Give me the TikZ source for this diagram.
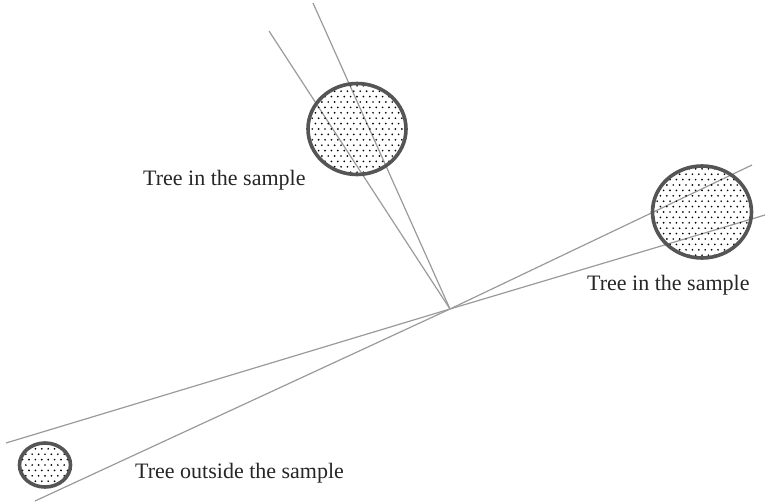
\documentclass[tikz,border=0pt]{standalone}
\usepackage{fontspec}
\setmainfont{Liberation Serif}
\usetikzlibrary{shapes.geometric}
\definecolor{raycol}{HTML}{9A9A9A}
\definecolor{treeedge}{HTML}{555555}
\tikzset{
  ray/.style={draw=raycol, line width=1.2pt, line join=round},
  tree/.style={ellipse, draw=treeedge, line width=3.6pt, inner sep=0pt,
    path picture={
      \begin{scope}[shift={(path picture bounding box.center)}]
        \foreach \j in {-10,...,10}{
          \foreach \i in {-14,...,14}{
            \fill[black] (\i*6.4+\j*3.2, \j*5.4) circle (0.95);
          }
        }
      \end{scope}
    }},
  lbl/.style={anchor=base west, inner sep=0pt, font=\fontsize{22}{26}\selectfont, text=black!85}
}
\begin{document}
\begin{tikzpicture}[x=1pt, y=-1pt]
  \useasboundingbox (0,0) rectangle (766,503);
  \coordinate (c) at (450,309);
  \coordinate (t1) at (269,31);
  \coordinate (t2) at (313,3);
  \coordinate (r1) at (752,165);
  \coordinate (r2) at (765,215);
  \coordinate (l1) at (6,443);
  \coordinate (l2) at (35,501);
  \draw[ray] (c) -- (t1);
  \draw[ray] (c) -- (t2);
  \draw[ray] (l1) -- (c) -- (r2);
  \draw[ray] (l2) -- (c) -- (r1);
  \node[tree, minimum width=98pt, minimum height=91pt] (treeA) at (357,129) {};
  \node[tree, minimum width=99pt, minimum height=92pt] (treeB) at (702,212) {};
  \node[tree, minimum width=51pt, minimum height=44pt] (treeC) at (45,465) {};
  \node[lbl] (labA) at (143,185) {Tree in the sample};
  \node[lbl] (labB) at (587,290) {Tree in the sample};
  \node[lbl] (labC) at (135,478) {Tree outside the sample};
\end{tikzpicture}
\end{document}
